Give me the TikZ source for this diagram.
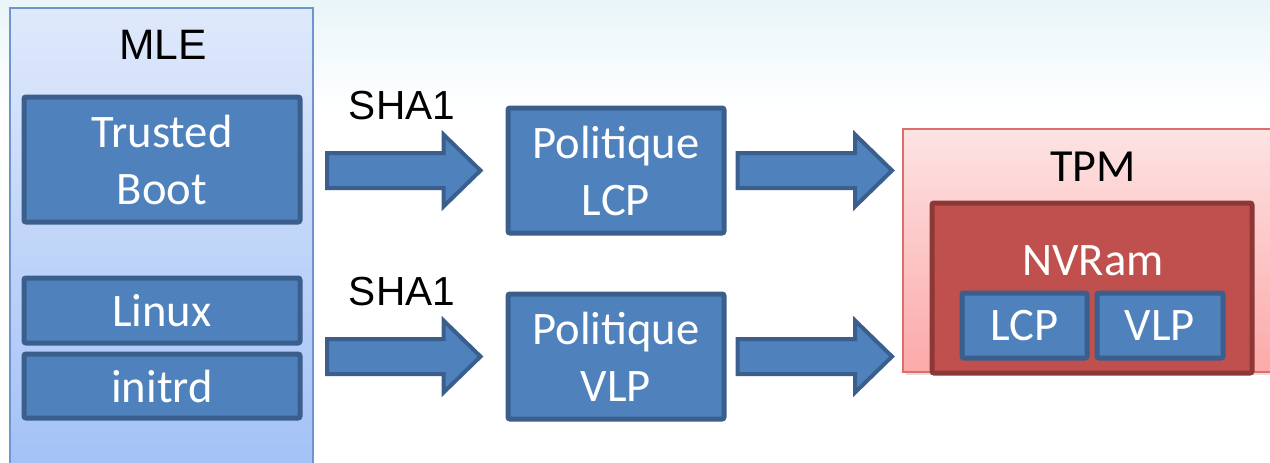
\documentclass[tikz,border=0pt]{standalone}
\usepackage{fontspec}
\setmainfont{Carlito}
\newfontfamily\arialfont{Liberation Sans}
\usetikzlibrary{calc,shadows}

\definecolor{boxblue}{HTML}{4F81BD}
\definecolor{boxblueline}{HTML}{3A5F8C}
\definecolor{nvred}{HTML}{C0504D}
\definecolor{nvredline}{HTML}{8C3836}
\definecolor{mletop}{HTML}{DFE9FB}
\definecolor{mlebottom}{HTML}{A3C1F7}
\definecolor{mleline}{HTML}{6F95CF}
\definecolor{tpmtop}{HTML}{FDE3E3}
\definecolor{tpmbottom}{HTML}{FCA9A9}
\definecolor{tpmline}{HTML}{DD6E6E}
\definecolor{skytop}{HTML}{E9F5F8}

% block arrow between two points (horizontal)
\newcommand{\fatarrow}[2]{%
  \draw[fatarrow] let \p1=(#1), \p2=(#2) in
    (\x1,\y1-8.75pt) -- (\x2-18.5pt,\y1-8.75pt) -- (\x2-18.5pt,\y1-18pt)
    -- (\x2,\y1) -- (\x2-18.5pt,\y1+18pt) -- (\x2-18.5pt,\y1+8.75pt)
    -- (\x1,\y1+8.75pt) -- cycle;}

\begin{document}
\begin{tikzpicture}[x=0.5pt,y=-0.5pt,
    bluebox/.style={draw=boxblueline,fill=boxblue,line width=2.5pt,rounded corners=1pt,
        text=white,align=center,inner sep=0pt,font=\fontsize{23.3}{28.5}\selectfont},
    smallbox/.style={bluebox,font=\fontsize{23.3}{28}\selectfont},
    fatarrow/.style={draw=boxblueline,fill=boxblue,line width=2pt,line join=miter},
    title/.style={text=black,inner sep=0pt}]

    \clip (0,0) rectangle (1270,462);

    % Background
    \fill[white] (0,0) rectangle (1270,462);
    \fill[top color=skytop,bottom color=white] (0,0) rectangle (1270,110);

    % MLE side
    \node[draw=mleline,line width=1pt,top color=mletop,bottom color=mlebottom,
        minimum width=151.5pt,minimum height=231pt,inner sep=0pt] (mle) at (161.5,239) {};
    \node[title,font=\arialfont\fontsize{21.3}{25}\selectfont] (mlelabel) at (163,45) {MLE};
    \node[bluebox,minimum width=138pt,minimum height=62.5pt] (boot) at (162,159.5) {Trusted\\Boot};
    \node[bluebox,minimum width=138pt,minimum height=32.5pt] (linux) at (162,310.5) {Linux};
    \node[bluebox,minimum width=138pt,minimum height=32pt] (initrd) at (162,386) {initrd};

    % Policies
    \node[bluebox,minimum width=108pt,minimum height=62.5pt] (lcp) at (616,170.5) {Politique\\LCP};
    \node[bluebox,minimum width=108pt,minimum height=62.5pt] (vlp) at (616,356.5) {Politique\\VLP};

    % TPM
    \node[draw=tpmline,line width=1pt,top color=tpmtop,bottom color=tpmbottom,
        drop shadow={opacity=0.25,shadow xshift=1.5pt,shadow yshift=-1.5pt},
        minimum width=191pt,minimum height=121.5pt,inner sep=0pt] (tpm) at (1094,250.5) {};
    \node[title,font=\fontsize{23}{27}\selectfont] (tpmlabel) at (1093,167) {TPM};
    \node[draw=nvredline,fill=nvred,line width=2.5pt,rounded corners=1pt,
        minimum width=160pt,minimum height=85pt,inner sep=0pt] (nvram) at (1092,288) {};
    \node[text=white,inner sep=0pt,font=\fontsize{23.3}{28}\selectfont] (nvlabel) at (1093,261) {NVRam};
    \node[smallbox,minimum width=62.5pt,minimum height=32.5pt] (lcpslot) at (1024.5,325.5) {LCP};
    \node[smallbox,minimum width=63pt,minimum height=32.5pt] (vlpslot) at (1160,325.5) {VLP};

    % Hash labels
    \node[title,font=\arialfont\fontsize{20.3}{24}\selectfont] (shaone) at (402,106) {SHA1};
    \node[title,font=\arialfont\fontsize{20.3}{24}\selectfont] (shatwo) at (402,292) {SHA1};

    % Arrows
    \fatarrow{$(mle.east |- lcp.west)+(13,0)$}{$(lcp.west)+(-25,0)$}
    \fatarrow{$(mle.east |- vlp.west)+(13,0)$}{$(vlp.west)+(-25,0)$}
    \fatarrow{$(lcp.east)+(11,0)$}{$(tpm.west |- lcp.east)+(-10,0)$}
    \fatarrow{$(vlp.east)+(11,0)$}{$(tpm.west |- vlp.east)+(-10,0)$}

\end{tikzpicture}
\end{document}
